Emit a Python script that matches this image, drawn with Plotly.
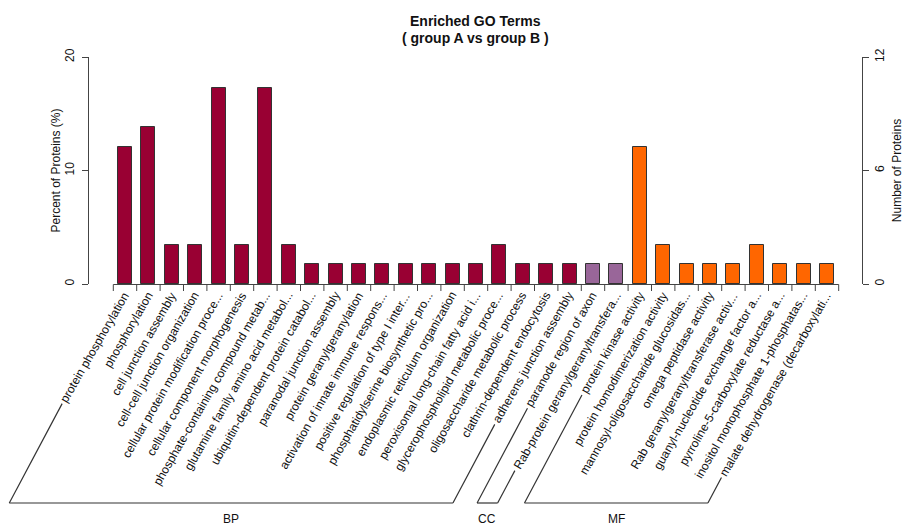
import plotly.graph_objects as go

# GO terms, ordered as drawn (BP, then CC, then MF)
terms_bp = [
    "protein phosphorylation",
    "phosphorylation",
    "cell junction assembly",
    "cell-cell junction organization",
    "cellular protein modification proce...",
    "cellular component morphogenesis",
    "phosphate-containing compound metab...",
    "glutamine family amino acid metabol...",
    "ubiquitin-dependent protein catabol...",
    "paranodal junction assembly",
    "protein geranylgeranylation",
    "activation of innate immune respons...",
    "positive regulation of type I inter...",
    "phosphatidylserine biosynthetic pro...",
    "endoplasmic reticulum organization",
    "peroxisomal long-chain fatty acid i...",
    "glycerophospholipid metabolic proce...",
    "oligosaccharide metabolic process",
    "clathrin-dependent endocytosis",
    "adherens junction assembly",
]
terms_cc = [
    "paranode region of axon",
    "Rab-protein geranylgeranyltransfera...",
]
terms_mf = [
    "protein kinase activity",
    "protein homodimerization activity",
    "mannosyl-oligosaccharide glucosidas...",
    "omega peptidase activity",
    "Rab geranylgeranyltransferase activ...",
    "guanyl-nucleotide exchange factor a...",
    "pyrroline-5-carboxylate reductase a...",
    "inositol monophosphate 1-phosphatas...",
    "malate dehydrogenase (decarboxylati...",
]

# Number of proteins per term
counts_bp = [7, 8, 2, 2, 10, 2, 10, 2, 1, 1, 1, 1, 1, 1, 1, 1, 2, 1, 1, 1]
counts_cc = [1, 1]
counts_mf = [7, 2, 1, 1, 1, 2, 1, 1, 1]

total_proteins = 58

groups = ["BP", "CC", "MF"]
group_colors = {"BP": "#990033", "CC": "#996699", "MF": "#FF6600"}

pct_ticks = [0, 10, 20]
num_ticks = [0, 6, 12]

# ---- assemble ----
terms = terms_bp + terms_cc + terms_mf
counts = counts_bp + counts_cc + counts_mf
group_of = ["BP"] * len(terms_bp) + ["CC"] * len(terms_cc) + ["MF"] * len(terms_mf)
percent = [c / total_proteins * 100 for c in counts]
xpos = list(range(len(terms)))

W, H = 904, 525
ML, MR, MT, MB = 89, 42, 57, 241
plot_w = W - ML - MR
PPU = 23.4                      # pixels per bar slot
x_lo = -(125 - ML) / PPU
x_hi = x_lo + plot_w / PPU


def xpaper(v):
    """Data x -> paper fraction of the plot area."""
    return (v - x_lo) / (x_hi - x_lo)


FONT = "Liberation Sans, Arial, sans-serif"
LABEL_SIZE = 12
INK = "#111111"
AXIS_COL = "#444444"

# Arial / Liberation Sans advance widths (per 1000 em)
ARIAL_W = {
    " ": 278, "-": 333, ".": 278, "(": 333, ")": 333,
    "a": 556, "b": 556, "c": 500, "d": 556, "e": 556, "f": 278, "g": 556,
    "h": 556, "i": 222, "j": 222, "k": 500, "l": 222, "m": 833, "n": 556,
    "o": 556, "p": 556, "q": 556, "r": 333, "s": 500, "t": 278, "u": 556,
    "v": 500, "w": 722, "x": 500, "y": 500, "z": 500,
    "R": 722, "I": 278, "A": 667, "B": 667,
}


def text_width(s, size=LABEL_SIZE):
    return sum(ARIAL_W.get(ch, 556) for ch in s) * size / 1000.0


COS, SIN = 0.5, 0.8660254
END_DX, END_DY = 1.0, -9.0      # label end relative to bar centre / baseline
GAP = 3.0
BRACKET_Y = -219.0              # bracket baseline, px below zero line
BRACKET_TAN = 1.8807            # tan(62 deg)
GROUP_LABEL_Y = -235.0

fig = go.Figure()

fig.add_trace(go.Bar(
    x=xpos, y=percent, width=0.6,
    marker=dict(color=[group_colors[g] for g in group_of],
                line=dict(color="#333333", width=1)),
    hoverinfo="skip", showlegend=False, yaxis="y",
))
# carries the right-hand count axis
fig.add_trace(go.Scatter(
    x=xpos, y=counts, mode="markers", marker=dict(opacity=0),
    hoverinfo="skip", showlegend=False, yaxis="y2",
))

shapes = []
annotations = []

# x axis baseline and ticks at slot boundaries (paper-referenced so they are not clipped)
line_style = dict(color=AXIS_COL, width=1)
base = dict(type="line", xref="paper", yref="paper", ysizemode="pixel", yanchor=0)
shapes.append(dict(base, x0=xpaper(-0.5), x1=xpaper(len(terms) - 0.5), y0=-0.5, y1=-0.5,
                   line=line_style))
for k in range(len(terms) + 1):
    shapes.append(dict(base, x0=xpaper(k - 0.5), x1=xpaper(k - 0.5), y0=-0.5, y1=-7,
                       line=line_style))

# rotated term labels
label_start = []
for i, t in enumerate(terms):
    w = text_width(t)
    annotations.append(dict(
        x=i, y=0, xref="x", yref="y", text=t, showarrow=False,
        textangle=-60, xanchor="center", yanchor="middle",
        xshift=END_DX - w / 2 * COS, yshift=END_DY - w / 2 * SIN,
        font=dict(family=FONT, size=LABEL_SIZE, color=INK),
    ))
    sx = END_DX - (w + GAP) * COS
    sy = END_DY - (w + GAP) * SIN
    label_start.append((sx, sy))

# category brackets under the labels
for g in groups:
    idx = [i for i, gg in enumerate(group_of) if gg == g]
    i0, i1 = idx[0], idx[-1]
    s0, s1 = label_start[i0], label_start[i1]
    b0x = s0[0] - (s0[1] - BRACKET_Y) / BRACKET_TAN
    b1x = s1[0] - (s1[1] - BRACKET_Y) / BRACKET_TAN
    b1x_rel = b1x + (i1 - i0) * PPU
    common = dict(type="line", xref="paper", yref="paper", xsizemode="pixel",
                  ysizemode="pixel", yanchor=0, line=dict(color="#333333", width=1.2))
    a0, a1 = xpaper(i0), xpaper(i1)
    shapes.append(dict(common, xanchor=a0, x0=s0[0], y0=s0[1], x1=b0x, y1=BRACKET_Y))
    shapes.append(dict(common, xanchor=a1, x0=s1[0], y0=s1[1], x1=b1x, y1=BRACKET_Y))
    shapes.append(dict(common, xanchor=a0, x0=b0x, y0=BRACKET_Y, x1=b1x_rel, y1=BRACKET_Y))
    annotations.append(dict(
        x=i0, y=0, xref="x", yref="y", text=g, showarrow=False,
        xanchor="center", yanchor="middle",
        xshift=(b0x + b1x_rel) / 2, yshift=GROUP_LABEL_Y,
        font=dict(family=FONT, size=12, color=INK),
    ))

# title
annotations.append(dict(
    x=0.5, y=1, xref="paper", yref="paper", yshift=36, showarrow=False,
    text="<b>Enriched GO Terms</b>", xanchor="center", yanchor="middle",
    font=dict(family=FONT, size=14, color=INK),
))
annotations.append(dict(
    x=0.5, y=1, xref="paper", yref="paper", yshift=19, showarrow=False,
    text="<b>( group A vs group B )</b>", xanchor="center", yanchor="middle",
    font=dict(family=FONT, size=14, color=INK),
))

axis_common = dict(
    showgrid=False, zeroline=False, showline=True, linecolor=AXIS_COL, linewidth=1,
    ticks="outside", ticklen=6, tickcolor=AXIS_COL, tickangle=-90, automargin=False,
    tickfont=dict(family=FONT, size=12, color=INK),
)

fig.update_layout(
    width=W, height=H,
    margin=dict(l=ML, r=MR, t=MT, b=MB, pad=0),
    paper_bgcolor="white", plot_bgcolor="white",
    font=dict(family=FONT, color=INK),
    bargap=0,
    xaxis=dict(range=[x_lo, x_hi], visible=False, fixedrange=True, automargin=False),
    yaxis=dict(axis_common, range=[0, 20], tickvals=pct_ticks, ticklabelstandoff=3,
               title=dict(text="Percent of Proteins (%)", font=dict(family=FONT, size=12, color=INK),
                          standoff=0)),
    yaxis2=dict(axis_common, range=[0, 12], tickvals=num_ticks, overlaying="y", side="right",
                ticklabelstandoff=1,
                title=dict(text="Number of Proteins", font=dict(family=FONT, size=12, color=INK),
                           standoff=17)),
    shapes=shapes,
    annotations=annotations,
)

fig.write_html("out.html")
